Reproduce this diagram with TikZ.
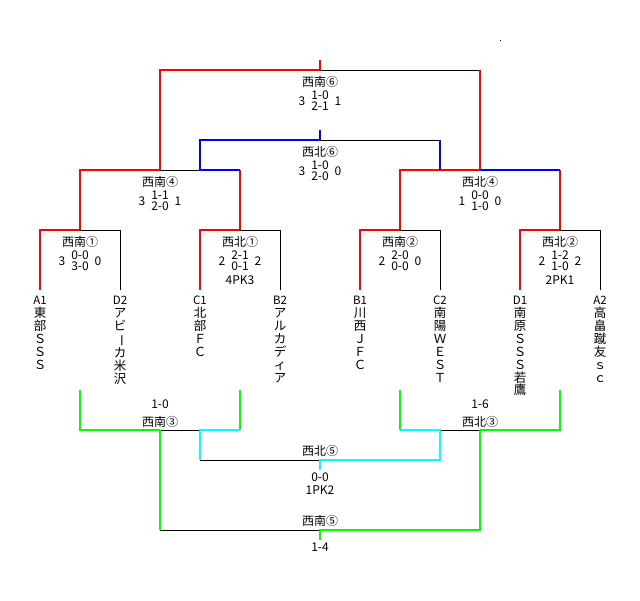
\documentclass[tikz,border=0pt]{standalone}
\usepackage{fontspec}
\usepackage{graphicx}
\usetikzlibrary{calc}
\newfontfamily\jpfont{Noto Sans CJK JP}
\definecolor{winred}{RGB}{255,0,0}
\definecolor{winblue}{RGB}{0,0,255}
\definecolor{wingreen}{RGB}{0,255,0}
\definecolor{wincyan}{RGB}{0,255,255}
\tikzset{
	redline/.style={line width=2pt, color=winred},
	blueline/.style={line width=2pt, color=winblue},
	greenline/.style={line width=2pt, color=wingreen},
	cyanline/.style={line width=2pt, color=wincyan},
	blackline/.style={line width=1pt, color=black},
	matchlbl/.style={font={\jpfont\fontsize{12}{14}\selectfont}, inner sep=0pt},
	goals/.style={font={\jpfont\fontsize{12}{13}\selectfont}, inner sep=0pt},
	team/.style={font={\jpfont\fontsize{12.5}{12.9}\selectfont}, align=center, anchor=north, inner xsep=0pt, inner ysep=6pt},
}
\def\teamcode#1{{\fontsize{11.5}{12.9}\selectfont #1}}
\def\vchoon{\rotatebox[origin=c]{-90}{ー}}
% match label with two halves and totals
\newcommand{\halves}[6]{%
	\node[matchlbl] (#1-lbl) at ($(#1)+(0,11.5)$) {#2};
	\node[goals] (#1-h1) at ($(#1-lbl)+(0,13.5)$) {#4};
	\node[goals] (#1-h2) at ($(#1-lbl)+(0,24.5)$) {#5};
	\node[goals] (#1-l) at ($(#1-lbl)+(-18,19.5)$) {#3};
	\node[goals] (#1-r) at ($(#1-lbl)+(18,19.5)$) {#6};
}

\begin{document}
\begin{tikzpicture}[x=1pt, y=-1pt]
		%%%%% START %%%%%
		\useasboundingbox (0,0) rectangle (640,600);
		
		\coordinate (sn6top) at (320,60);
		\coordinate (sn6) at (320,70);
		\coordinate (nb6top) at (320,130);
		\coordinate (nb6) at (320,140);
		\coordinate (sn4) at (160,170);
		\coordinate (nb4) at (480,170);
		\coordinate (sn1) at (80,230);
		\coordinate (nb1) at (240,230);
		\coordinate (sn2) at (400,230);
		\coordinate (nb2) at (560,230);
		
		\coordinate (sn1lo) at (80,390);
		\coordinate (nb1lo) at (240,390);
		\coordinate (sn2lo) at (400,390);
		\coordinate (nb2lo) at (560,390);
		\coordinate (sn3) at (160,430);
		\coordinate (nb3) at (480,430);
		\coordinate (nb5) at (320,460);
		\coordinate (nb5bot) at (320,470);
		\coordinate (sn5) at (320,530);
		\coordinate (sn5bot) at (320,540);
		
		\node[team] (tA1) at (40,290) {\teamcode{A1}\\東\\部\\Ｓ\\Ｓ\\Ｓ};
		\node[team] (tD2) at (120,290) {\teamcode{D2}\\ア\\ビ\\\vchoon\\カ\\米\\沢};
		\node[team] (tC1) at (200,290) {\teamcode{C1}\\北\\部\\Ｆ\\Ｃ};
		\node[team] (tB2) at (280,290) {\teamcode{B2}\\ア\\ル\\カ\\デ\\ィ\\ア};
		\node[team] (tB1) at (360,290) {\teamcode{B1}\\川\\西\\Ｊ\\Ｆ\\Ｃ};
		\node[team] (tC2) at (440,290) {\teamcode{C2}\\南\\陽\\Ｗ\\Ｅ\\Ｓ\\Ｔ};
		\node[team] (tD1) at (520,290) {\teamcode{D1}\\南\\原\\Ｓ\\Ｓ\\Ｓ\\若\\鷹};
		\node[team] (tA2) at (600,290) {\teamcode{A2}\\高\\畠\\蹴\\友\\ｓ\\ｃ};
		
		% first round
		\draw[blackline] (tD2.north) |- (sn1);
		\draw[redline] (tA1.north) |- (sn1);
		\draw[blackline] (tB2.north) |- (nb1);
		\draw[redline] (tC1.north) |- (nb1);
		\draw[blackline] (tC2.north) |- (sn2);
		\draw[redline] (tB1.north) |- (sn2);
		\draw[blackline] (tA2.north) |- (nb2);
		\draw[redline] (tD1.north) |- (nb2);
		
		% second round
		\draw[blackline] (sn4) -- (tC1 |- sn4);
		\draw[redline] (sn1) |- (sn4);
		\draw[redline] (nb1) -- (nb1 |- sn4);
		\draw[blueline] (nb1 |- sn4) -| (nb6 -| tC1) -- (nb6) -- (nb6top);
		\draw[redline] (sn2) |- (nb4);
		\draw[redline] (nb2) -- (nb2 |- nb4);
		\draw[blueline] (nb2 |- nb4) -- (nb4);
		\draw[blackline] (tC2 |- nb6) -- (nb6);
		\draw[blueline] (tC2 |- nb4) -- (tC2 |- nb6);
		
		% final
		\draw[blackline] (sn6) -- (nb4 |- sn6);
		\draw[redline] (sn4) |- (sn6) -- (sn6top);
		\draw[redline] (nb4) -- (nb4 |- sn6);
		
		% lower bracket
		\draw[blackline] (sn3) -- (tC1 |- sn3);
		\draw[blackline] (tC1 |- nb5) -- (nb5);
		\draw[blackline] (tC2 |- nb3) -- (nb3);
		\draw[blackline] (sn3 |- sn5) -- (sn5);
		\draw[greenline] (sn1lo) |- (sn3);
		\draw[greenline] (nb1lo) -- (nb1lo |- sn3);
		\draw[cyanline] (nb1lo |- sn3) -- (tC1 |- sn3) -- (tC1 |- nb5);
		\draw[cyanline] (nb5bot) -- (nb5) -| (tC2 |- nb3) -- (sn2lo |- nb3);
		\draw[greenline] (sn2lo) -- (sn2lo |- nb3);
		\draw[greenline] (nb2lo) |- (nb3);
		\draw[greenline] (sn3) -- (sn3 |- sn5);
		\draw[greenline] (sn5bot) -- (sn5) -| (nb3);
		
		\halves{sn6}{西南⑥}{3}{1-0}{2-1}{1}
		\halves{nb6}{西北⑥}{3}{1-0}{2-0}{0}
		\halves{sn4}{西南④}{3}{1-1}{2-0}{1}
		\halves{nb4}{西北④}{1}{0-0}{1-0}{0}
		\halves{sn1}{西南①}{3}{0-0}{3-0}{0}
		\halves{nb1}{西北①}{2}{2-1}{0-1}{2}
		\node[goals] (nb1-pk) at ($(nb1-lbl)+(0,39)$) {4PK3};
		\halves{sn2}{西南②}{2}{2-0}{0-0}{0}
		\halves{nb2}{西北②}{2}{1-2}{1-0}{2}
		\node[goals] (nb2-pk) at ($(nb2-lbl)+(0,39)$) {2PK1};
		
		\node[matchlbl] (sn3-lbl) at ($(sn3)+(0,-8.5)$) {西南③};
		\node[goals] (sn3-res) at ($(sn3-lbl)+(0,-17)$) {1-0};
		\node[matchlbl] (nb3-lbl) at ($(nb3)+(0,-8.5)$) {西北③};
		\node[goals] (nb3-res) at ($(nb3-lbl)+(0,-17)$) {1-6};
		\node[matchlbl] (nb5-lbl) at ($(nb5)+(0,-9)$) {西北⑤};
		\node[goals] (nb5-res) at ($(nb5)+(0,17)$) {0-0};
		\node[goals] (nb5-pk) at ($(nb5)+(0,30)$) {1PK2};
		\node[matchlbl] (sn5-lbl) at ($(sn5)+(0,-9)$) {西南⑤};
		\node[goals] (sn5-res) at ($(sn5)+(0,17)$) {1-4};
		
		\fill (499.5,39.5) rectangle (500.5,40.5);
		%%%%% END %%%%%
\end{tikzpicture}
\end{document}
